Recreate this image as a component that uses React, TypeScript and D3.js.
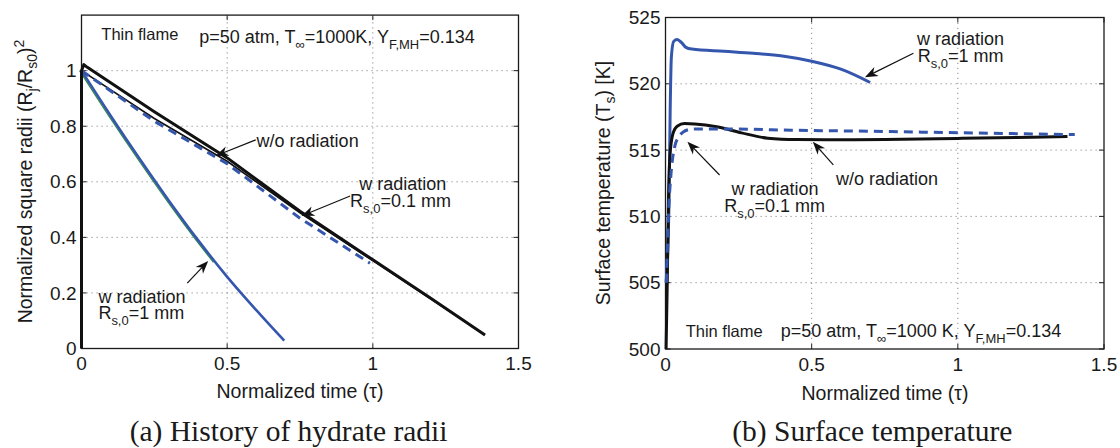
import React, { useEffect, useRef } from 'react';
import * as d3 from 'd3';

type Pt = [number, number];

// (a) history of hydrate radii: normalized time vs (R/Rs0)^2
const radiiNoRad: Pt[] = [[0, 0], [0, 1.0], [0.008, 1.022], [0.02, 1.012], [0.25, 0.852], [0.5, 0.686], [0.75, 0.494], [1.0, 0.319], [1.2, 0.18], [1.385, 0.049]];
const radiiNoRadThin: Pt[] = [[0, 1.0], [0.25, 0.828], [0.5, 0.674], [0.75, 0.488], [1.0, 0.316], [1.2, 0.178], [1.385, 0.049]];
const radiiRad01: Pt[] = [[0, 1.0], [0.25, 0.818], [0.5, 0.665], [0.75, 0.469], [0.99, 0.307]];
const radiiRad1: Pt[] = [[0, 1.0], [0.1, 0.838], [0.2, 0.682], [0.3, 0.532], [0.4, 0.39], [0.5, 0.258], [0.6, 0.138], [0.696, 0.028]];
const radiiRad1Green: Pt[] = [[0, 1.0], [0.1, 0.838], [0.2, 0.682], [0.3, 0.532], [0.4, 0.39], [0.46, 0.31]];

// (b) surface temperature [K]
const tempNoRad: Pt[] = [[0.002, 500], [0.006, 505], [0.01, 511], [0.015, 514.5], [0.025, 516.2], [0.04, 516.8], [0.065, 517.0], [0.1, 516.97], [0.175, 516.76], [0.26, 516.3], [0.35, 515.9], [0.45, 515.8], [0.6, 515.78], [0.75, 515.8], [1.0, 515.88], [1.2, 515.95], [1.375, 516.02]];
const tempRad01: Pt[] = [[0.003, 505], [0.01, 510], [0.02, 513.5], [0.032, 515.3], [0.045, 516], [0.06, 516.35], [0.08, 516.55], [0.1, 516.6], [0.2, 516.6], [0.43, 516.5], [0.7, 516.42], [1.0, 516.31], [1.2, 516.24], [1.4, 516.17]];
const tempRad1: Pt[] = [[0.002, 505], [0.012, 511], [0.016, 518], [0.02, 522], [0.028, 523.2], [0.04, 523.35], [0.055, 523.1], [0.07, 522.75], [0.09, 522.62], [0.2, 522.45], [0.3, 522.3], [0.4, 522.1], [0.5, 521.7], [0.6, 521.1], [0.7, 520.1]];

const timeTicks = [0, 0.5, 1, 1.5];
const radiiTicks = [0, 0.2, 0.4, 0.6, 0.8, 1];
const tempTicks = [500, 505, 510, 515, 520, 525];

const SANS = '"Liberation Sans", Arial, Helvetica, sans-serif';
const SERIF = '"Liberation Serif", "Times New Roman", serif';
const BLUE = '#3456ad';

type Part = [string, number?];

function rich(sel: any, parts: Part[], size: number) {
  let cur = 0;
  parts.forEach(([t, s = 0]) => {
    sel.append('tspan')
      .attr('dy', s - cur)
      .style('font-size', `${s ? size * 0.72 : size}px`)
      .text(t);
    cur = s;
  });
}

function label(g: any, px: number, py: number, parts: Part[], size = 18) {
  const t = g.append('text')
    .attr('x', px).attr('y', py)
    .attr('fill', '#1a1a1a')
    .style('font-family', SANS);
  rich(t, parts, size);
  return t;
}

function arrow(g: any, x1: number, y1: number, x2: number, y2: number) {
  const a = Math.atan2(y2 - y1, x2 - x1);
  const ux = Math.cos(a), uy = Math.sin(a);
  const nx = -uy, ny = ux;
  const L = 13, W = 5;
  g.append('line')
    .attr('x1', x1).attr('y1', y1)
    .attr('x2', x2 - ux * L * 0.6).attr('y2', y2 - uy * L * 0.6)
    .attr('stroke', '#111').attr('stroke-width', 1.2);
  const pts = [
    [x2, y2],
    [x2 - ux * L + nx * W, y2 - uy * L + ny * W],
    [x2 - ux * L * 0.7, y2 - uy * L * 0.7],
    [x2 - ux * L - nx * W, y2 - uy * L - ny * W],
  ];
  g.append('polygon').attr('points', pts.map((p) => p.join(',')).join(' ')).attr('fill', '#111');
}

function panel(svg: any, xr: number[], yr: number[], yDomain: number[], yTicks: number[], yFmt: (d: number) => string) {
  const x = d3.scaleLinear().domain([0, 1.5]).range(xr);
  const y = d3.scaleLinear().domain(yDomain).range(yr);
  const g = svg.append('g');
  const [x0, x1] = xr;
  const [y0, y1] = [y(yDomain[0]), y(yDomain[1])];

  g.append('rect').attr('x', x0).attr('y', y1).attr('width', x1 - x0).attr('height', y0 - y1).attr('fill', 'white');

  // dotted grid
  timeTicks.filter((d) => d > 0 && d < 1.5).forEach((d) => {
    g.append('line').attr('x1', x(d)).attr('x2', x(d)).attr('y1', y0).attr('y2', y1)
      .attr('stroke', '#8a8a8a').attr('stroke-width', 1).attr('stroke-dasharray', '1.2,3.8');
  });
  yTicks.filter((d) => d > yDomain[0] && d < yDomain[1]).forEach((d) => {
    g.append('line').attr('x1', x0).attr('x2', x1).attr('y1', y(d)).attr('y2', y(d))
      .attr('stroke', '#8a8a8a').attr('stroke-width', 1).attr('stroke-dasharray', '1.2,3.8');
  });

  // inward tick marks
  timeTicks.forEach((d) => {
    g.append('line').attr('x1', x(d)).attr('x2', x(d)).attr('y1', y0).attr('y2', y0 - 5).attr('stroke', '#222');
    g.append('line').attr('x1', x(d)).attr('x2', x(d)).attr('y1', y1).attr('y2', y1 + 5).attr('stroke', '#222');
    g.append('text').attr('x', x(d)).attr('y', y0 + 21.5)
      .attr('text-anchor', 'middle').attr('fill', '#1a1a1a')
      .style('font-family', SANS).style('font-size', '19px')
      .text(String(d));
  });
  yTicks.forEach((d) => {
    g.append('line').attr('x1', x0).attr('x2', x0 + 5).attr('y1', y(d)).attr('y2', y(d)).attr('stroke', '#222');
    g.append('line').attr('x1', x1).attr('x2', x1 - 5).attr('y1', y(d)).attr('y2', y(d)).attr('stroke', '#222');
    g.append('text').attr('x', x0 - 5).attr('y', y(d)).attr('dy', '0.35em')
      .attr('text-anchor', 'end').attr('fill', '#1a1a1a')
      .style('font-family', SANS).style('font-size', '19px')
      .text(yFmt(d));
  });

  svg.append('rect').attr('x', x0).attr('y', y1).attr('width', x1 - x0).attr('height', y0 - y1)
    .attr('fill', 'none').attr('stroke', '#1a1a1a').attr('stroke-width', 1.3);

  const line = (curve: any) => d3.line<Pt>().x((d) => x(d[0])).y((d) => y(d[1])).curve(curve);

  return { x, y, line };
}

const App = () => {
  const svgRef = useRef<SVGSVGElement>(null);

  useEffect(() => {
    const svg = d3.select(svgRef.current);
    svg.selectAll('*').remove();

    // ---------- (a) ----------
    const a = panel(svg, [81.5, 518.5], [348.5, 15.1], [0, 1.2], radiiTicks, (d) => String(d));
    const ga = svg.append('g');
    ga.append('path').datum(radiiRad1Green).attr('d', a.line(d3.curveMonotoneX))
      .attr('fill', 'none').attr('stroke', '#2e8b3e').attr('stroke-width', 1.2).attr('transform', 'translate(-2,0)');
    ga.append('path').datum(radiiRad1).attr('d', a.line(d3.curveMonotoneX))
      .attr('fill', 'none').attr('stroke', BLUE).attr('stroke-width', 2.6);
    ga.append('path').datum(radiiNoRadThin).attr('d', a.line(d3.curveLinear))
      .attr('fill', 'none').attr('stroke', '#111').attr('stroke-width', 1.6);
    ga.append('path').datum(radiiRad01).attr('d', a.line(d3.curveLinear))
      .attr('fill', 'none').attr('stroke', BLUE).attr('stroke-width', 3).attr('stroke-dasharray', '9,6');
    ga.append('path').datum(radiiNoRad).attr('d', a.line(d3.curveLinear))
      .attr('fill', 'none').attr('stroke', '#111').attr('stroke-width', 3).attr('stroke-linejoin', 'round');

    label(ga, a.x(0.068), a.y(1.109), [['Thin flame']], 16.5);
    label(ga, a.x(0.404), a.y(1.099), [['p=50 atm, T'], ['∞', 6], ['=1000K, Y'], ['F,MH', 6], ['=0.134']], 18);
    label(ga, a.x(0.601), a.y(0.726), [['w/o radiation']]);
    arrow(ga, a.x(0.598), a.y(0.751), a.x(0.46), a.y(0.693));
    label(ga, a.x(0.953), a.y(0.571), [['w radiation']]);
    label(ga, a.x(0.922), a.y(0.511), [['R'], ['s,0', 6], ['=0.1 mm']]);
    arrow(ga, a.x(0.922), a.y(0.549), a.x(0.755), a.y(0.477));
    label(ga, a.x(0.058), a.y(0.165), [['w radiation']]);
    label(ga, a.x(0.058), a.y(0.106), [['R'], ['s,0', 6], ['=1 mm']]);
    arrow(ga, a.x(0.363), a.y(0.235), a.x(0.435), a.y(0.315));

    ga.append('text').attr('x', 300).attr('y', 398).attr('text-anchor', 'middle')
      .attr('fill', '#1a1a1a').style('font-family', SANS).style('font-size', '19.5px')
      .text('Normalized time (τ)');
    const yla = ga.append('text').attr('transform', 'translate(32,181.5) rotate(-90)')
      .attr('text-anchor', 'middle').attr('fill', '#1a1a1a').style('font-family', SANS);
    rich(yla, [['Normalized square radii (R'], ['j', 5], ['/R'], ['s0', 5], [')'], ['2', -8]], 19.5);
    ga.append('text').attr('x', 288.6).attr('y', 440.5).attr('text-anchor', 'middle')
      .attr('fill', '#1a1a1a').style('font-family', SERIF).style('font-size', '29.5px')
      .text('(a) History of hydrate radii');

    // ---------- (b) ----------
    const b = panel(svg, [665.5, 1104], [349, 17.5], [500, 525], tempTicks, (d) => String(d));
    const gb = svg.append('g');
    gb.append('path').datum(tempRad1).attr('d', b.line(d3.curveMonotoneX))
      .attr('fill', 'none').attr('stroke', BLUE).attr('stroke-width', 3).attr('stroke-linejoin', 'round');
    gb.append('path').datum(tempNoRad).attr('d', b.line(d3.curveMonotoneX))
      .attr('fill', 'none').attr('stroke', '#111').attr('stroke-width', 3).attr('stroke-linejoin', 'round');
    gb.append('path').datum(tempRad01).attr('d', b.line(d3.curveMonotoneX))
      .attr('fill', 'none').attr('stroke', BLUE).attr('stroke-width', 3).attr('stroke-dasharray', '9,6');

    label(gb, b.x(0.86), b.y(522.93), [['w radiation']]);
    label(gb, b.x(0.863), b.y(521.67), [['R'], ['s,0', 6], ['=1 mm']]);
    arrow(gb, b.x(0.848), b.y(522.3), b.x(0.682), b.y(520.49));
    label(gb, b.x(0.226), b.y(511.6), [['w radiation']]);
    label(gb, b.x(0.201), b.y(510.35), [['R'], ['s,0', 6], ['=0.1 mm']]);
    arrow(gb, b.x(0.185), b.y(513.12), b.x(0.075), b.y(515.63));
    label(gb, b.x(0.583), b.y(512.37), [['w/o radiation']]);
    arrow(gb, b.x(0.574), b.y(513.88), b.x(0.504), b.y(515.63));
    label(gb, b.x(0.069), b.y(500.93), [['Thin flame']], 16.5);
    label(gb, b.x(0.394), b.y(500.93), [['p=50 atm, T'], ['∞', 6], ['=1000 K, Y'], ['F,MH', 6], ['=0.134']], 18);

    gb.append('text').attr('x', 885).attr('y', 400).attr('text-anchor', 'middle')
      .attr('fill', '#1a1a1a').style('font-family', SANS).style('font-size', '19.5px')
      .text('Normalized time (τ)');
    const ylb = gb.append('text').attr('transform', 'translate(610,183) rotate(-90)')
      .attr('text-anchor', 'middle').attr('fill', '#1a1a1a').style('font-family', SANS);
    rich(ylb, [['Surface temperature (T'], ['s', 5], [') [K]']], 19.5);
    gb.append('text').attr('x', 872.3).attr('y', 440.5).attr('text-anchor', 'middle')
      .attr('fill', '#1a1a1a').style('font-family', SERIF).style('font-size', '29.5px')
      .text('(b) Surface temperature');
  }, []);

  return (
    <svg
      ref={svgRef}
      width={1120}
      height={448}
      style={{ position: 'absolute', left: 0, top: 0, background: 'white' }}
    />
  );
};

export default App;
